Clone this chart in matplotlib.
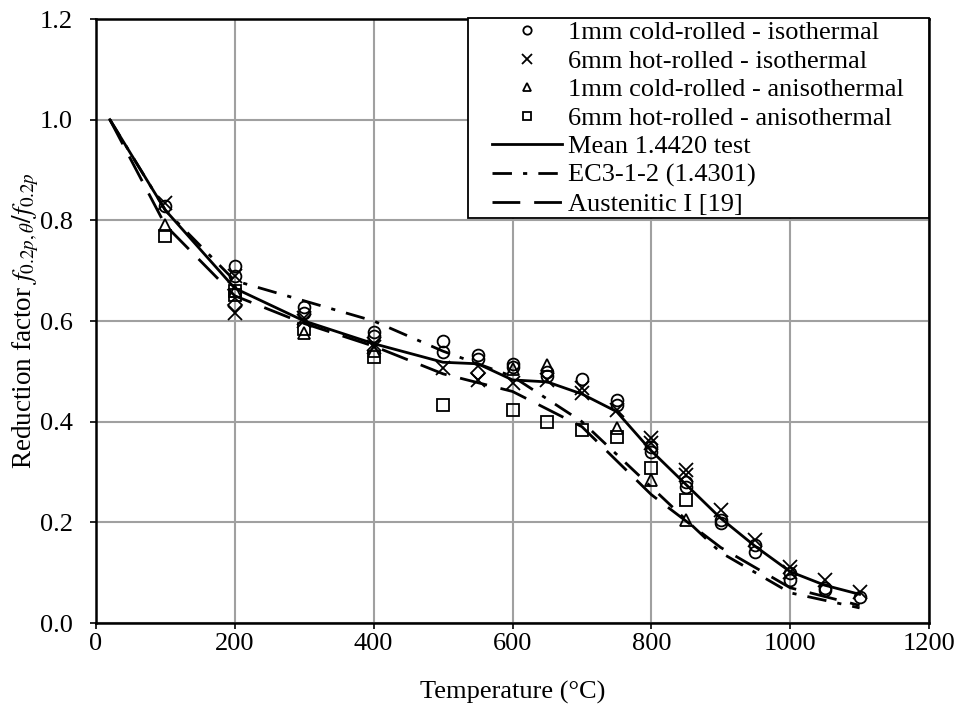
import matplotlib
matplotlib.use("Agg")
import matplotlib.pyplot as plt
from matplotlib.lines import Line2D
from matplotlib.patches import Rectangle

plt.rcParams['font.family'] = ['Liberation Serif', 'DejaVu Serif']
plt.rcParams['mathtext.fontset'] = 'stix'

# curves
mean_T = [20, 100, 200, 300, 400, 500, 550, 600, 650, 700, 750, 800, 850, 900, 950, 1000, 1050, 1100]
mean_k = [1.0, 0.82, 0.665, 0.60, 0.555, 0.518, 0.515, 0.483, 0.479, 0.455, 0.42, 0.342, 0.275, 0.208, 0.152, 0.102, 0.075, 0.057]

ec3_T = [20, 100, 200, 300, 400, 500, 600, 700, 800, 900, 1000, 1100]
ec3_k = [1.0, 0.82, 0.68, 0.64, 0.60, 0.54, 0.49, 0.40, 0.27, 0.14, 0.06, 0.03]

aus_T = [20, 100, 200, 300, 400, 500, 600, 700, 800, 900, 1000, 1100]
aus_k = [1.0, 0.79, 0.65, 0.595, 0.55, 0.495, 0.46, 0.39, 0.255, 0.15, 0.07, 0.035]

# test points
cold_iso_T = [100, 200, 200, 300, 300, 400, 400, 500, 500, 550, 550, 600, 600, 650, 650, 700,
              750, 750, 800, 800, 850, 850, 900, 900, 950, 950, 1000, 1000, 1050, 1050, 1100]
cold_iso_k = [0.828, 0.71, 0.69, 0.628, 0.615, 0.578, 0.57, 0.56, 0.539, 0.532, 0.525, 0.515, 0.508,
              0.499, 0.49, 0.485, 0.443, 0.433, 0.34, 0.35, 0.28, 0.27, 0.205, 0.198, 0.155, 0.141,
              0.085, 0.10, 0.07, 0.065, 0.052]

hot_iso_T = [100, 200, 200, 300, 300, 400, 400, 500, 550, 600, 650, 700, 700, 750, 800, 800,
             850, 850, 900, 950, 1000, 1000, 1050, 1100]
hot_iso_k = [0.835, 0.69, 0.616, 0.60, 0.605, 0.548, 0.555, 0.507, 0.483, 0.477, 0.483, 0.467, 0.457,
             0.423, 0.367, 0.357, 0.304, 0.295, 0.224, 0.165, 0.111, 0.101, 0.085, 0.062]

cold_aniso_T = [100, 200, 300, 400, 600, 650, 750, 800, 850]
cold_aniso_k = [0.79, 0.66, 0.576, 0.54, 0.505, 0.513, 0.387, 0.284, 0.205]

hot_aniso_T = [100, 200, 200, 300, 400, 500, 600, 650, 700, 750, 800, 850]
hot_aniso_k = [0.769, 0.652, 0.66, 0.585, 0.529, 0.433, 0.423, 0.40, 0.383, 0.37, 0.308, 0.244]

other_T = [200, 550]
other_k = [0.632, 0.497]

W, H = 962, 708
fig = plt.figure(figsize=(W / 100, H / 100), dpi=100)
ax = fig.add_axes([96 / W, 1 - 623 / H, 833 / W, 604 / H])

ms = 8.5
ax.plot(cold_iso_T, cold_iso_k, 'o', ms=ms, mfc='none', mec='black', mew=1.3)
ax.plot(hot_iso_T, hot_iso_k, 'x', ms=ms + 1, mec='black', mew=1.3)
ax.plot(cold_aniso_T, cold_aniso_k, '^', ms=ms, mfc='none', mec='black', mew=1.3)
ax.plot(hot_aniso_T, hot_aniso_k, 's', ms=ms, mfc='none', mec='black', mew=1.3)
ax.plot(other_T, other_k, 'D', ms=ms - 1, mfc='none', mec='black', mew=1.3)

ax.plot(mean_T, mean_k, '-', color='black', lw=2.0)
ax.plot(ec3_T, ec3_k, color='black', lw=2.0, dashes=(7, 4, 1.5, 4))
ax.plot(aus_T, aus_k, color='black', lw=2.0, dashes=(10, 5))

ax.set_xlim(0, 1200)
ax.set_ylim(0, 1.2)
ax.set_xticks(range(0, 1201, 200))
ax.set_yticks([0.0, 0.2, 0.4, 0.6, 0.8, 1.0, 1.2])
ax.set_yticklabels(['0.0', '0.2', '0.4', '0.6', '0.8', '1.0', '1.2'])
ax.grid(True, color='#a0a0a0', lw=1.5)
ax.set_axisbelow(True)
ax.tick_params(labelsize=19, direction='out', length=4.5, width=1.2, colors='black')
ax.tick_params(axis='y', pad=12)
ax.tick_params(axis='x', pad=3)
for s in ax.spines.values():
    s.set_linewidth(1.8)
    s.set_color('black')

ax.set_xlabel('Temperature (°C)', fontsize=19, labelpad=18)
ax.set_ylabel(r'Reduction factor $f_{0.2p,\theta}/f_{0.2p}$', fontsize=19.5, labelpad=-1)

# legend frame
frame = Rectangle((468 / W, 1 - 218 / H), 461 / W, 200 / H, transform=fig.transFigure,
                  facecolor='white', edgecolor='black', lw=1.3, zorder=4)
fig.patches.append(frame)

handles = [
    Line2D([], [], ls='none', marker='o', ms=6, mfc='none', mec='black', mew=1.3),
    Line2D([], [], ls='none', marker='x', ms=7, mec='black', mew=1.3),
    Line2D([], [], ls='none', marker='^', ms=6, mfc='none', mec='black', mew=1.3),
    Line2D([], [], ls='none', marker='s', ms=6, mfc='none', mec='black', mew=1.3),
    Line2D([], [], ls='-', color='black', lw=2.0),
    Line2D([], [], color='black', lw=2.0, dashes=(7, 4, 1.5, 4)),
    Line2D([], [], color='black', lw=2.0, dashes=(10, 5)),
]
labels = ['1mm cold-rolled - isothermal', '6mm hot-rolled - isothermal',
          '1mm cold-rolled - anisothermal', '6mm hot-rolled - anisothermal',
          'Mean 1.4420 test', 'EC3-1-2 (1.4301)', 'Austenitic I [19]']
leg = fig.legend(handles, labels, loc='upper left', bbox_to_anchor=(492 / W, 1 - 21 / H),
                 bbox_transform=fig.transFigure, fontsize=19, frameon=False,
                 borderaxespad=0, borderpad=0, handlelength=2.65,
                 handletextpad=0.23, labelspacing=0.19)
leg.set_zorder(6)

fig.savefig('out.png', dpi=100)
